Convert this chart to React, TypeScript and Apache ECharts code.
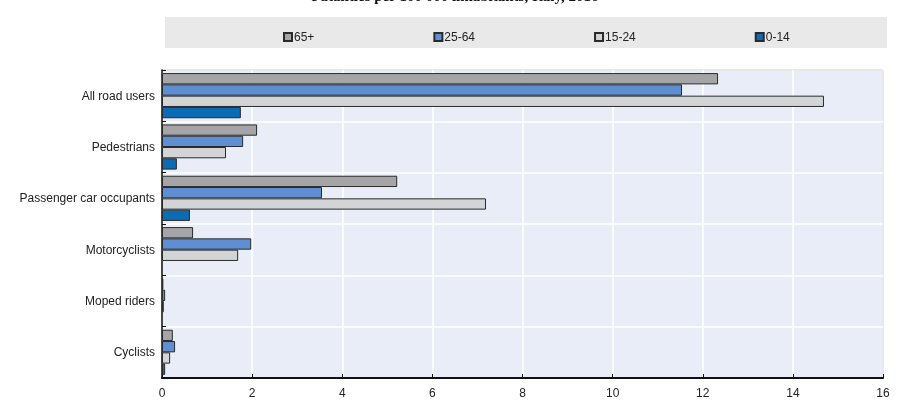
import React, { useEffect, useRef } from "react";
import * as echarts from "echarts";

const categories = [
  "All road users",
  "Pedestrians",
  "Passenger car occupants",
  "Motorcyclists",
  "Moped riders",
  "Cyclists",
];
const seriesNames = ["65+", "25-64", "15-24", "0-14"];
const age65plus = [12.34, 2.11, 5.22, 0.69, 0.03, 0.24];
const age25to64 = [11.54, 1.8, 3.55, 1.98, 0.07, 0.29];
const age15to24 = [14.69, 1.42, 7.19, 1.69, 0.04, 0.18];
const age0to14 = [1.75, 0.33, 0.62, null, null, 0.07];
const seriesValues = [age65plus, age25to64, age15to24, age0to14];
const seriesColors = ["#a5a5a8", "#5f8fd2", "#d3d4d6", "#0b6bb4"];
const titleText = "Fatalities per 100 000 inhabitants, Italy, 2016";

const FONT = "'Liberation Sans', Arial, sans-serif";

export default function App() {
  const ref = useRef<HTMLDivElement>(null);
  useEffect(() => {
    if (!ref.current) return;
    const chart = echarts.init(ref.current, undefined, { renderer: "svg" });
    chart.setOption({
      animation: false,
      textStyle: { fontFamily: FONT },
      graphic: [
        {
          type: "rect",
          shape: { x: 165, y: 17, width: 722, height: 31 },
          style: { fill: "#e9e9ea" },
          z: -10,
        },
        {
          type: "text",
          x: 455,
          y: 3,
          style: {
            text: titleText,
            fontFamily: "'Liberation Serif', 'Times New Roman', serif",
            fontWeight: "bold",
            fontSize: 15,
            fill: "#111",
            align: "center",
            verticalAlign: "bottom",
          },
        },
      ],
      legend: {
        left: 278,
        top: 26,
        itemWidth: 8,
        itemHeight: 8,
        itemGap: 119,
        icon: "rect",
        textStyle: { fontSize: 12, color: "#222", fontFamily: FONT, padding: [0, 0, 0, -3] },
        data: seriesNames,
      },
      grid: {
        left: 162,
        right: 20,
        top: 70,
        bottom: 41,
        show: true,
        backgroundColor: "#e8edf7",
        borderColor: "#555",
        borderWidth: 1,
      },
      xAxis: {
        type: "value",
        min: 0,
        max: 16,
        interval: 2,
        axisLine: { show: true, lineStyle: { color: "#111", width: 2 } },
        axisTick: { show: true, inside: true, length: 4, lineStyle: { color: "#111" } },
        axisLabel: { fontSize: 12, color: "#222", margin: 9 },
        splitLine: { show: true, lineStyle: { color: "#ffffff", width: 1.5 } },
      },
      yAxis: {
        type: "category",
        data: categories,
        inverse: true,
        axisLine: { show: true, lineStyle: { color: "#111", width: 1.5 } },
        axisTick: { show: true, inside: true, length: 4, lineStyle: { color: "#111" } },
        axisLabel: { fontSize: 12, color: "#222", margin: 7 },
        splitLine: { show: true, lineStyle: { color: "#ffffff", width: 1.5 } },
      },
      series: seriesNames.map((name, i) => ({
        name,
        type: "bar",
        data: seriesValues[i],
        barGap: "0%",
        barCategoryGap: "12%",
        itemStyle: { color: seriesColors[i], borderColor: "#2a2a2a", borderWidth: 1 },
      })),
    });
    return () => chart.dispose();
  }, []);
  return (
    <div
      ref={ref}
      style={{ position: "fixed", left: 0, top: 0, width: 903, height: 419 }}
    />
  );
}
